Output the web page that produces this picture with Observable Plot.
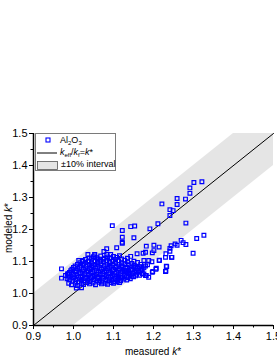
<!DOCTYPE html>
<html><head><meta charset="utf-8">
<script src="https://cdn.jsdelivr.net/npm/d3@7"></script>
<script src="https://cdn.jsdelivr.net/npm/@observablehq/plot@0.6"></script>
<style>
body{margin:0;background:#fff;font-family:"Liberation Sans",Arial,sans-serif;}
#wrap{position:relative;width:277px;height:358px;overflow:hidden;}
#wrap svg{position:absolute;left:0;top:0;}
.lab{position:absolute;font-size:10px;color:#000;white-space:nowrap;line-height:1;}
#legend{position:absolute;left:35px;top:133px;width:81px;height:38px;border:1px solid #7a7a7a;background:#fff;box-sizing:border-box;font-size:9px;}
#legend .row{position:absolute;left:0;height:12px;width:80px;}
#legend .txt{position:absolute;left:24px;top:0;white-space:nowrap;line-height:12px;}
#legend sub{font-size:6px;vertical-align:-2px;line-height:0;}
</style></head><body><div id="wrap"></div>
<script>
// measured k* (x) and modeled k* (y)
const measured = [
 // sparse upper outliers
 1.221,1.241,1.249,1.241,1.259,1.259,1.280,1.291,1.291,1.301,1.321,
 1.211,1.281,1.191,1.151,1.143,1.153,1.097,1.122,1.122,1.122,1.083,1.036,1.053,1.083,1.093,
 // right side below the line
 1.201,1.214,1.201,1.244,1.254,1.259,1.269,1.274,1.281,1.241,1.241,1.231,1.246,1.308,1.326,1.299,
 1.214,1.196,1.233,1.206,1.231,1.197,1.182,1.180,1.197,1.188,1.215,1.230,1.245,1.232,1.207,1.198,1.230,1.182,
 1.108,1.122,1.143,1.159,1.174,1.176,1.151,1.155,1.166,1.147,1.176,1.188,1.130,1.118,1.172,1.180,1.138,1.113,
 // left edge
 0.970,0.970,0.988,1.020,0.987,1.013,1.022,1.038,1.053,1.062,1.076,0.995,1.007,
 // dense mass
 1.010,1.025,1.040,1.055,1.070,1.085,1.100,1.115,
 0.998,1.012,1.027,1.042,1.058,1.072,1.088,1.103,1.118,1.133,
 0.984,1.000,1.015,1.030,1.045,1.060,1.075,1.090,1.105,1.120,1.136,1.150,
 0.980,0.994,1.008,1.022,1.037,1.052,1.067,1.082,1.097,1.112,1.127,1.142,1.158,1.172,
 0.990,1.004,1.018,1.033,1.048,1.063,1.078,1.093,1.108,1.123,1.138,1.153,1.168,
 0.996,1.010,1.025,1.040,1.055,1.070,1.085,1.100,1.115,1.130,1.145,1.160,1.176,
 1.004,1.018,1.032,1.047,1.062,1.077,1.092,1.107,1.122,1.137,1.152,1.168,1.185,
 1.016,1.030,1.045,1.060,1.075,1.090,1.105,1.120,1.135,1.160,
 1.030,1.045,1.060,1.075,1.090,1.105,1.120,1.135,
 1.050,1.068,1.085,1.100,1.115,
 // dense mass, in-between rows
 1.005,1.020,1.034,1.049,1.064,1.079,1.094,1.109,
 0.991,1.006,1.020,1.036,1.051,1.066,1.081,1.096,1.111,1.126,1.142,
 0.988,1.003,1.018,1.033,1.048,1.063,1.078,1.093,1.108,1.123,1.138,1.155,1.165,
 0.985,1.000,1.014,1.029,1.044,1.059,1.074,1.089,1.104,1.119,1.134,1.149,1.164,
 0.993,1.007,1.022,1.037,1.052,1.067,1.082,1.097,1.112,1.127,1.142,1.157,1.170,
 1.000,1.015,1.029,1.044,1.059,1.074,1.089,1.104,1.119,1.134,1.149,1.165,1.180,
 1.010,1.025,1.040,1.054,1.069,1.084,1.099,1.114,1.129,1.146,
 1.023,1.038,1.053,1.068,1.083,1.098,1.113,1.128,
 1.040,1.058,1.077,1.093,1.108
];
const modeled = [
 1.280,1.262,1.259,1.244,1.297,1.278,1.295,1.313,1.330,1.347,1.349,
 1.218,1.220,1.202,1.174,1.209,1.211,1.212,1.197,1.176,1.157,1.140,1.122,1.122,1.122,1.122,
 1.151,1.145,1.134,1.149,1.155,1.151,1.166,1.159,1.153,1.141,1.132,1.124,1.113,1.172,1.182,1.126,
 1.103,1.099,1.084,1.076,1.070,1.066,1.148,1.129,1.127,1.103,1.104,1.113,1.113,1.085,1.079,1.069,1.069,1.056,
 1.143,1.160,1.116,1.124,1.126,1.103,1.101,1.082,1.084,1.062,1.061,1.051,1.067,1.051,1.076,1.056,1.062,1.051,
 1.048,1.077,1.032,1.018,1.062,1.103,1.103,1.100,1.121,1.108,1.131,1.027,1.017,
 1.025,1.028,1.030,1.027,1.030,1.029,1.032,1.034,
 1.038,1.036,1.039,1.037,1.040,1.036,1.039,1.037,1.040,1.042,
 1.046,1.048,1.045,1.047,1.049,1.046,1.048,1.045,1.047,1.049,1.050,1.052,
 1.056,1.055,1.057,1.055,1.058,1.056,1.059,1.055,1.057,1.059,1.056,1.058,1.060,1.062,
 1.066,1.068,1.065,1.067,1.069,1.066,1.068,1.065,1.067,1.069,1.071,1.068,1.072,
 1.076,1.078,1.075,1.077,1.079,1.076,1.078,1.075,1.077,1.079,1.076,1.078,1.080,
 1.086,1.088,1.085,1.087,1.089,1.086,1.088,1.085,1.087,1.090,1.088,1.091,1.090,
 1.096,1.098,1.095,1.097,1.099,1.096,1.098,1.095,1.099,1.097,
 1.106,1.108,1.105,1.107,1.109,1.106,1.108,1.110,
 1.115,1.117,1.114,1.116,1.118,
 1.033,1.032,1.034,1.033,1.035,1.032,1.034,1.036,
 1.042,1.043,1.041,1.042,1.044,1.041,1.043,1.042,1.044,1.045,1.046,
 1.051,1.052,1.050,1.051,1.053,1.050,1.052,1.051,1.053,1.052,1.054,1.055,1.057,
 1.061,1.060,1.062,1.061,1.063,1.060,1.062,1.061,1.063,1.062,1.064,1.063,1.066,
 1.071,1.072,1.070,1.071,1.073,1.070,1.072,1.071,1.073,1.072,1.074,1.073,1.076,
 1.081,1.082,1.080,1.081,1.083,1.080,1.082,1.081,1.083,1.082,1.084,1.083,1.086,
 1.091,1.092,1.090,1.091,1.093,1.090,1.092,1.091,1.093,1.094,
 1.101,1.102,1.100,1.101,1.103,1.100,1.102,1.104,
 1.111,1.112,1.110,1.112,1.113
];
// ±10% interval band (k* ± 0.1) within the axes
const bandX = [0.9, 1.0, 1.4, 1.5];
const bandLo = [0.9, 0.9, 1.3, 1.4];
const bandHi = [1.0, 1.1, 1.5, 1.5];
// k_eff/k_f = k* line
const diagX = [0.9, 1.5];
const diagY = [0.9, 1.5];
const majorTicks = [0.9, 1.0, 1.1, 1.2, 1.3, 1.4, 1.5];
const minorTicks = [0.95, 1.05, 1.15, 1.25, 1.35, 1.45];

const pts = measured.map((x, i) => ({x, y: modeled[i]}));
const band = bandX.map((x, i) => ({x, lo: bandLo[i], hi: bandHi[i]}));
const diag = diagX.map((x, i) => ({x, y: diagY[i]}));

const chart = Plot.plot({
  width: 277, height: 358,
  marginTop: 133, marginBottom: 33, marginLeft: 33, marginRight: 4,
  x: {domain: [0.9, 1.5], label: null},
  y: {domain: [0.9, 1.5], label: null},
  style: {fontFamily: "'Liberation Sans', Arial, sans-serif", fontSize: "11px", color: "#000", background: "transparent", overflow: "visible"},
  marks: [
    Plot.areaY(band, {x: "x", y1: "lo", y2: "hi", fill: "#e5e5e5"}),
    Plot.line(diag, {x: "x", y: "y", stroke: "#000", strokeWidth: 1}),
    Plot.dot(pts, {x: "x", y: "y", symbol: "square", r: 2.1, stroke: "#0000ff", strokeWidth: 1.2, fill: "none"}),
    Plot.axisX(minorTicks, {tickSize: 2.5, tickFormat: () => "", label: null}),
    Plot.axisX(majorTicks, {tickSize: 4, tickPadding: 3, tickFormat: d => d.toFixed(1), label: null}),
    Plot.axisY(minorTicks, {tickSize: 2.5, tickFormat: () => "", label: null}),
    Plot.axisY(majorTicks, {tickSize: 4, tickPadding: 2, tickFormat: d => d.toFixed(1), label: null}),
    Plot.ruleX([0.9], {stroke: "#000", strokeWidth: 1.5}),
    Plot.ruleY([0.9], {stroke: "#000", strokeWidth: 1.5})
  ]
});
const wrap = document.getElementById("wrap");
wrap.appendChild(chart);

const xl = document.createElement("div");
xl.className = "lab";
xl.innerHTML = "measured <i>k</i>*";
xl.style.left = "153px"; xl.style.top = "347px"; xl.style.transform = "translateX(-50%)";
wrap.appendChild(xl);

const yl = document.createElement("div");
yl.className = "lab";
yl.innerHTML = "modeled <i>k</i>*";
yl.style.left = "9px"; yl.style.top = "228px"; yl.style.transform = "translate(-50%,-50%) rotate(-90deg)";
wrap.appendChild(yl);

const lg = document.createElement("div");
lg.id = "legend";
lg.innerHTML =
 '<div class="row" style="top:0px"><svg width="24" height="12" style="position:absolute;left:0;top:0"><rect x="10" y="4" width="4" height="4" fill="none" stroke="#0000ff" stroke-width="1.1"/></svg><span class="txt">Al<sub>2</sub>O<sub>3</sub></span></div>' +
 '<div class="row" style="top:12px"><svg width="24" height="12" style="position:absolute;left:0;top:0"><line x1="1" x2="21" y1="7" y2="7" stroke="#000" stroke-width="1"/></svg><span class="txt"><i>k</i><sub>eff</sub>/<i>k</i><sub>f</sub>=<i>k</i>*</span></div>' +
 '<div class="row" style="top:24px"><svg width="24" height="13" style="position:absolute;left:0;top:0"><rect x="1.5" y="3.5" width="20" height="8" fill="#e5e5e5" stroke="#555" stroke-width="0.8"/></svg><span class="txt" style="left:25px">±10% interval</span></div>';
wrap.appendChild(lg);
</script>
</body></html>
